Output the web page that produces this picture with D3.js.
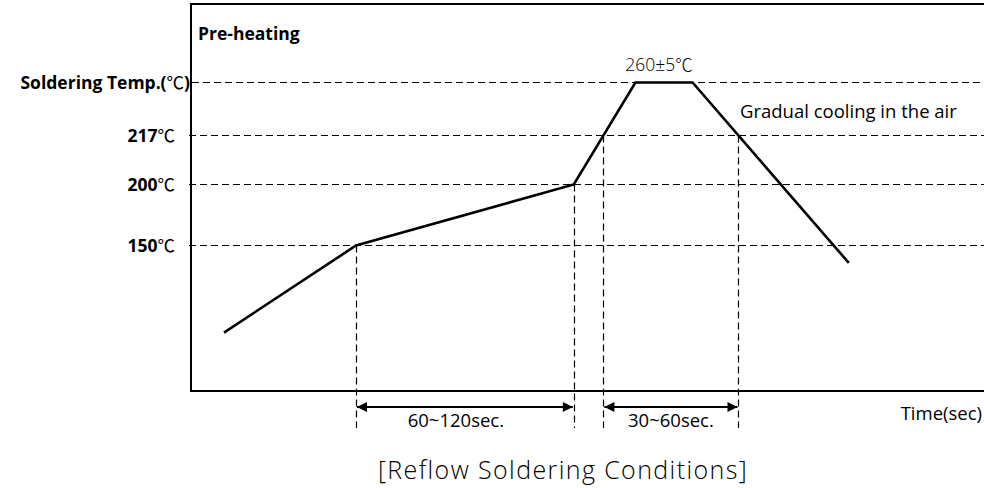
<!DOCTYPE html>
<html><head><meta charset="utf-8">
<script src="https://cdn.jsdelivr.net/npm/d3@7"></script>
<style>body{margin:0;background:#fff}svg{display:block}text{font-family:"Open Sans","Noto Sans",sans-serif;fill:#000}.cjk{font-family:"Noto Sans CJK SC",sans-serif;font-weight:normal}.light .cjk{font-weight:300}</style>
</head><body><svg id="c" width="984" height="488"></svg>
<script>
// Reflow profile (time in s, temperature in °C)
const profileTimes = [15, 75, 174, 202, 228, 299];
const profileTemps = [80, 150, 200, 260, 260, 136];
// Reference temperature levels and their labels
const levelTemps = [150, 200, 217, 260];
const levelLabels = ["150℃", "200℃", "217℃", "Soldering Temp.(℃)"];
const peakLabel = "260±5℃";
const coolingLabel = "Gradual cooling in the air";
const preheatLabel = "Pre-heating";
const spanLabels = ["60~120sec.", "30~60sec."];
const xAxisLabel = "Time(sec)";
const caption = "[Reflow Soldering Conditions]";

const svg = d3.select("#c");
const L = 191, T = 4, B = 391, R = 1000;
const x = d3.scaleLinear().domain([0, 370]).range([L, L + 370 * 2.2]);
// piecewise temperature scale (schematic, not to scale)
const y = d3.scaleLinear().domain([60, 150, 200, 217, 260]).range([357.5, 245.5, 184.5, 135.5, 82.5]);

// write text, rendering ℃ with a CJK font
function label(sel, str) {
  str.split(/(℃)/).forEach(part => {
    if (!part) return;
    const ts = sel.append("tspan").text(part);
    if (part === "℃") ts.attr("class", "cjk");
  });
  return sel;
}

const defs = svg.append("defs");
defs.append("marker").attr("id","ah").attr("viewBox","0 0 10 10").attr("refX",10).attr("refY",5)
  .attr("markerWidth",14).attr("markerHeight",10).attr("markerUnits","userSpaceOnUse").attr("orient","auto-start-reverse")
  .append("path").attr("d","M0,0L10,5L0,10z").attr("fill","#000");

// horizontal dashed level lines
levelTemps.forEach((t, i) => {
  svg.append("line").attr("x1", i === 3 ? 192 : 189).attr("x2", 984).attr("y1", y(t)).attr("y2", y(t))
    .attr("stroke", "#000").attr("stroke-width", 1.2).attr("stroke-dasharray", "7,4");
  label(svg.append("text").attr("x", i === 3 ? 190 : 175).attr("y", y(t) + 6)
    .attr("text-anchor", "end").attr("font-weight", "bold").attr("font-size", 17.5), levelLabels[i]);
});

// crossing times at 217℃
const pts = profileTimes.map((t, i) => [x(t), y(profileTemps[i])]);
function crossX(a, b, py) { return a[0] + (b[0] - a[0]) * (py - a[1]) / (b[1] - a[1]); }
const y217 = y(217);
const cx1 = crossX(pts[2], pts[3], y217), cx2 = crossX(pts[4], pts[5], y217);

// vertical dashed lines
const verts = [[pts[1][0], pts[1][1]], [pts[2][0], pts[2][1]], [cx1, y217], [cx2, y217]];
verts.forEach(v => {
  const vx = Math.round(v[0]) + 0.5;
  svg.append("line").attr("x1", vx).attr("x2", vx).attr("y1", v[1]).attr("y2", 428)
    .attr("stroke", "#000").attr("stroke-width", 1.2).attr("stroke-dasharray", "7,4");
});

// frame
svg.append("path").attr("d", `M${R},${T}H${L}V${B}H${R}`).attr("fill", "none").attr("stroke", "#000").attr("stroke-width", 2);

// profile
svg.append("path").datum(profileTimes.map((t, i) => [t, profileTemps[i]]))
  .attr("d", d3.line().x(d => x(d[0])).y(d => y(d[1])))
  .attr("fill", "none").attr("stroke", "#000").attr("stroke-width", 2.6).attr("stroke-linejoin", "miter");

// span arrows
const spans = [[verts[0][0], verts[1][0]], [verts[2][0], verts[3][0]]];
spans.forEach((s, i) => {
  svg.append("line").attr("x1", s[0] + 1).attr("x2", s[1] - 1).attr("y1", 407).attr("y2", 407)
    .attr("stroke", "#000").attr("stroke-width", 1.8)
    .attr("marker-start", "url(#ah)").attr("marker-end", "url(#ah)");
  svg.append("text").attr("x", (s[0] + s[1]) / 2 - (i === 0 ? 9 : 0)).attr("y", 427).attr("text-anchor", "middle")
    .attr("font-size", 18.5).text(spanLabels[i]);
});

svg.append("text").attr("x", 198).attr("y", 40).attr("font-weight", "bold").attr("font-size", 17.5).text(preheatLabel);
label(svg.append("text").attr("class", "light").attr("x", (pts[3][0] + pts[4][0]) / 2 - 5).attr("y", 71).attr("text-anchor", "middle").attr("font-size", 17.5).attr("font-weight", 300), peakLabel);
svg.append("text").attr("x", 740).attr("y", 118).attr("font-size", 18.5).text(coolingLabel);
svg.append("text").attr("x", 982).attr("y", 420).attr("text-anchor", "end").attr("font-size", 18.5).text(xAxisLabel);
svg.append("text").attr("x", 563).attr("y", 479).attr("text-anchor", "middle").attr("font-size", 25).attr("letter-spacing", 1.4).attr("font-weight", 300).text(caption);
</script></body></html>
